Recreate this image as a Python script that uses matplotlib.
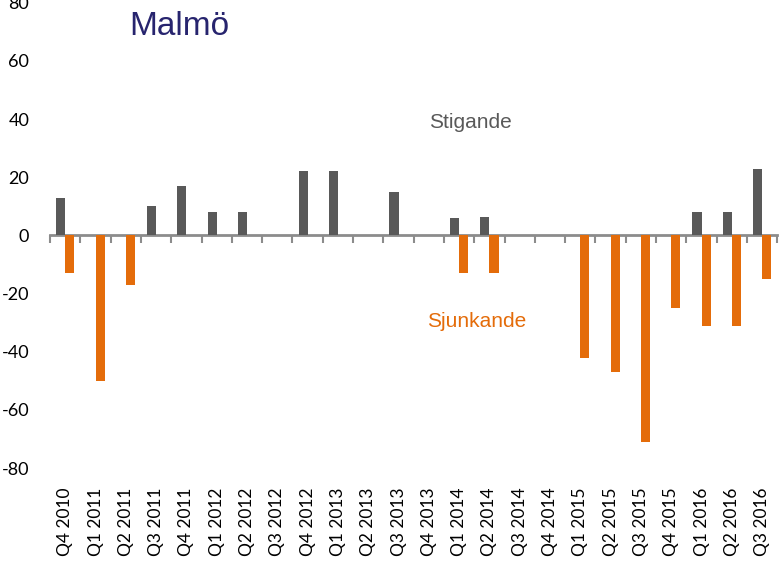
import matplotlib.pyplot as plt
import numpy as np

# quarters on the x axis
quarters = ["Q4 2010", "Q1 2011", "Q2 2011", "Q3 2011", "Q4 2011",
            "Q1 2012", "Q2 2012", "Q3 2012", "Q4 2012", "Q1 2013",
            "Q2 2013", "Q3 2013", "Q4 2013", "Q1 2014", "Q2 2014",
            "Q3 2014", "Q4 2014", "Q1 2015", "Q2 2015", "Q3 2015",
            "Q4 2015", "Q1 2016", "Q2 2016", "Q3 2016"]

# share reporting rising / falling
stigande = [13, 0, 0, 10, 17, 8, 8, 0, 22, 22, 0, 15, 0, 6, 6.5,
            0, 0, 0, 0, 0, 0, 8, 8, 23]
sjunkande = [-13, -50, -17, 0, 0, 0, 0, 0, 0, 0, 0, 0, 0, -13, -13,
             0, 0, -42, -47, -71, -25, -31, -31, -15]

y_ticks = [-80, -60, -40, -20, 0, 20, 40, 60, 80]

grey = "#595959"
orange = "#E46C0A"
navy = "#27246E"
axis_grey = "#8C8C8C"


def main():
    fig = plt.figure(figsize=(7.82, 5.62), dpi=100)
    ax = fig.add_axes([0.064, 0.167, 0.930, 0.828])

    x = np.arange(len(quarters))
    w = 0.3
    ax.bar(x - w / 2, stigande, width=w, color=grey, zorder=2)
    ax.bar(x + w / 2, sjunkande, width=w, color=orange, zorder=2)

    ax.set_xlim(-0.5, len(quarters) - 0.5)
    ax.set_ylim(-80, 80)

    # zero line with tick marks between categories
    for side in ["left", "right", "top"]:
        ax.spines[side].set_visible(False)
    ax.spines["bottom"].set_position(("data", 0))
    ax.spines["bottom"].set_color(axis_grey)
    ax.spines["bottom"].set_linewidth(2)
    ax.spines["bottom"].set_zorder(1)
    ax.set_xticks(np.arange(len(quarters) + 1) - 0.5)
    ax.set_xticklabels([])
    ax.tick_params(axis="x", length=6, width=1.5, color=axis_grey, direction="out")

    # quarter labels at the bottom of the plot
    sec = ax.secondary_xaxis("bottom")
    sec.spines["bottom"].set_visible(False)
    sec.set_xticks(x)
    sec.set_xticklabels(quarters, rotation=90, fontsize=12.5, family="Lato")
    sec.tick_params(length=0, pad=14)

    ax.set_yticks(y_ticks)
    ax.set_yticklabels([str(v) for v in y_ticks], fontsize=13, family="Lato")
    ax.tick_params(axis="y", length=0, pad=15)

    ax.text(2.1, 72, "Malmö", fontsize=24, color=navy, family="Liberation Sans",
            va="center", ha="left")
    ax.text(12.0, 39, "Stigande", fontsize=15, color=grey, family="Liberation Sans",
            va="center", ha="left")
    ax.text(11.95, -29.7, "Sjunkande", fontsize=15, color=orange,
            family="Liberation Sans", va="center", ha="left")

    fig.savefig("out.png", dpi=100)


if __name__ == "__main__":
    main()
